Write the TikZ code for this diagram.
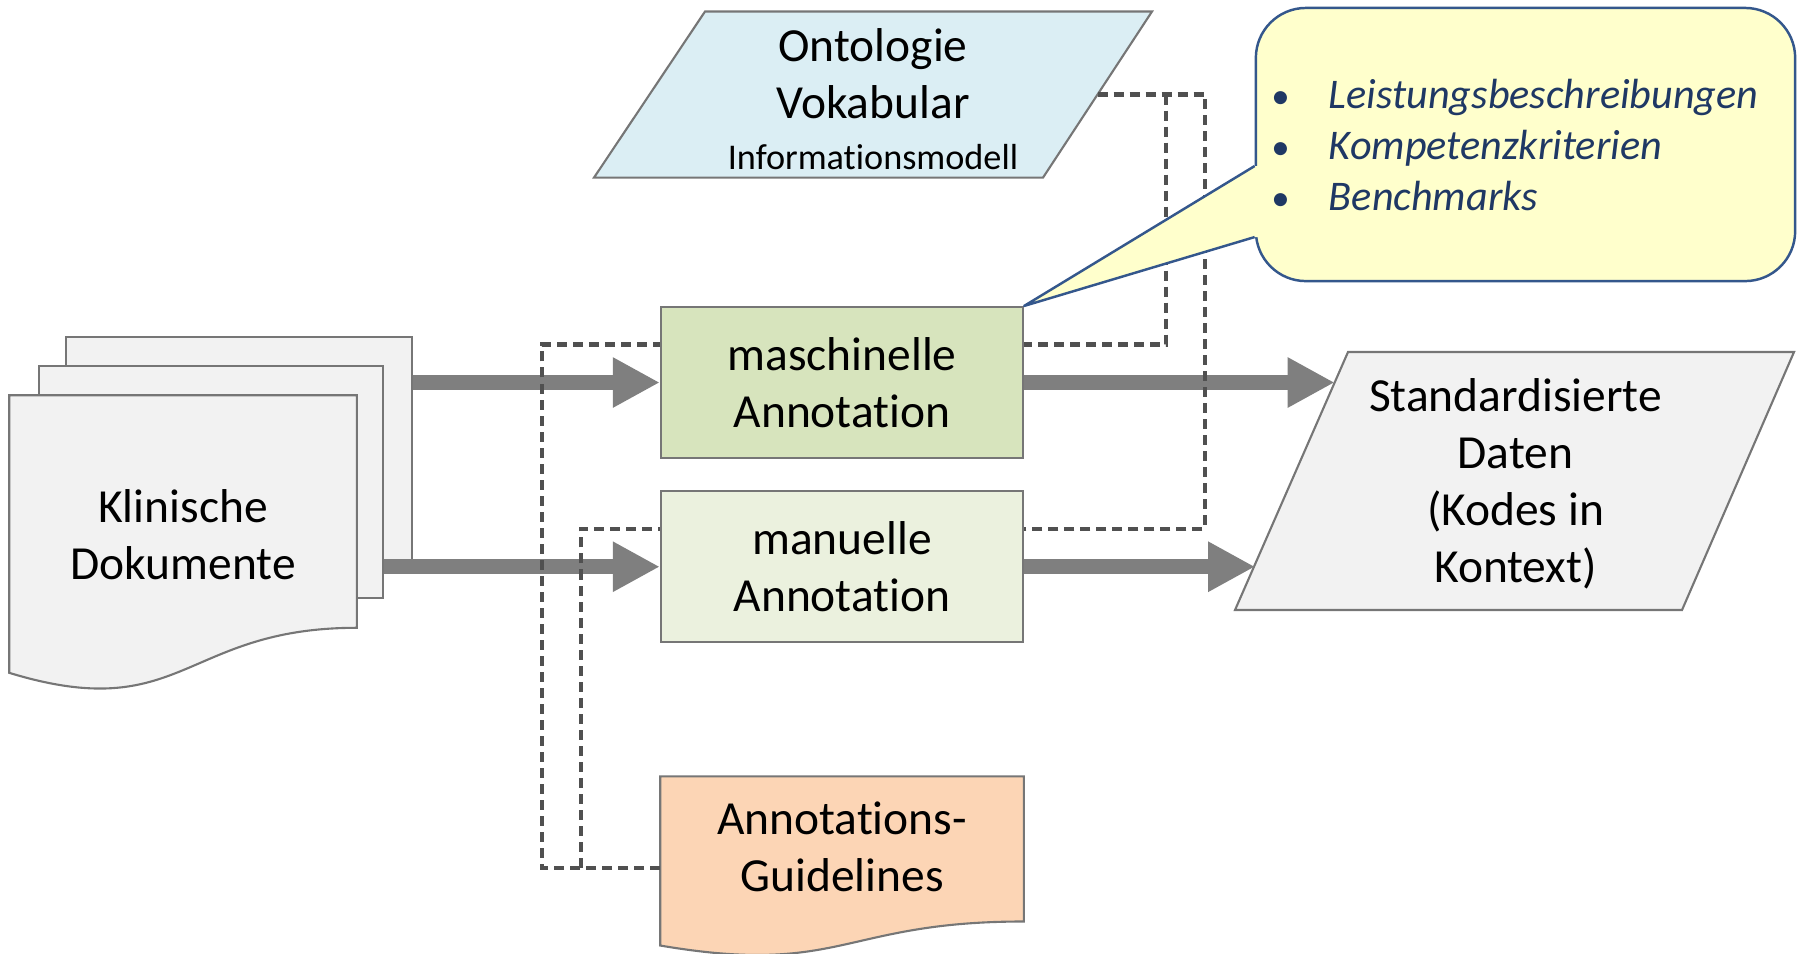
\documentclass[tikz,border=0pt]{standalone}
\usepackage{fontspec}
\setmainfont{Carlito}[Ligatures=CommonOff]
\usepackage{tikz}
\usetikzlibrary{arrows.meta, positioning, calc}
\definecolor{randgrau}{RGB}{118,118,118}
\definecolor{blattgrau}{RGB}{242,242,242}
\definecolor{maschgruen}{RGB}{215,228,189}
\definecolor{manugruen}{RGB}{235,241,222}
\definecolor{guideorange}{RGB}{252,213,181}
\definecolor{ontoblau}{RGB}{219,238,244}
\definecolor{pfeilgrau}{RGB}{127,127,127}
\definecolor{strichgrau}{RGB}{80,80,80}
\definecolor{hinweisgelb}{RGB}{255,255,204}
\definecolor{hinweisrand}{RGB}{52,87,140}
\definecolor{hinweistext}{RGB}{31,56,100}
\newcommand{\haupt}{\fontsize{13.5}{16.2}\selectfont}
\newcommand{\infotext}{\fontsize{10.3}{12}\selectfont}
\newcommand{\notiz}{\fontsize{12}{14.5}\selectfont}
\newcommand{\punkt}{\makebox[0.54cm][l]{\hspace{-1pt}\fontsize{10.5}{12}\selectfont\textbullet}}
\tikzset{
  blattflaeche/.style={draw=randgrau, fill=blattgrau, line width=0.6pt},
  blatt/.style={blattflaeche, rectangle, inner sep=0pt},
  schritt/.style={rectangle, draw=randgrau, line width=0.6pt, minimum width=3.62cm, minimum height=1.51cm, inner sep=0pt, align=center, font=\haupt},
  beschriftung/.style={align=center, font=\haupt, inner sep=0pt},
  hinweis/.style={rectangle, rounded corners=0.5cm, draw=hinweisrand, fill=hinweisgelb, line width=0.7pt, minimum width=5.39cm, minimum height=2.73cm, text width=5.01cm, inner xsep=0.19cm, align=left, font=\notiz, text=hinweistext},
  pfeil/.style={draw=pfeilgrau, line width=0.15cm, -{Triangle[length=0.47cm, width=0.47cm]}},
  strich/.style={draw=strichgrau, line width=0.042cm, dash pattern=on 0.1cm off 0.06cm}
}

\begin{document}
\begin{tikzpicture}[x=0.01cm, y=-0.01cm, node distance=0.31cm]
  \useasboundingbox (0,0) rectangle (1797,953);

  % Klinische Dokumente
  \node (docsC) [blatt, minimum width=3.46cm, minimum height=2.31cm] at (239,452.5) {};
  \node (docsB) [blatt, minimum width=3.44cm, minimum height=2.32cm] at (211,482) {};
  \node (docs) [minimum width=3.46cm, minimum height=2.31cm, inner sep=0pt] at (183,511.5) {};
  \filldraw [blattflaeche] (docs.north west) -- (docs.north east) -- (docs.south east)
    .. controls (docs.south) and ([yshift=-0.98cm]docs.south) .. ([yshift=-0.45cm]docs.south west) -- cycle;
  \node (docsText) [beschriftung] at ([yshift=-0.235cm]docs.center) {Klinische\\Dokumente};

  % Annotation
  \node (masch) [schritt, fill=maschgruen] at (842,382.5) {maschinelle\\Annotation};
  \node (manu) [schritt, fill=manugruen, below=of masch] {manuelle\\Annotation};
  \node (guide) [minimum width=3.62cm, minimum height=1.81cm, inner sep=0pt, below=1.33cm of manu] {};
  \filldraw [blattflaeche, fill=guideorange] (guide.north west) -- (guide.north east) -- ([yshift=-1.45cm]guide.north east)
    .. controls ([yshift=-1.45cm]guide.north) and ([yshift=-2.0cm]guide.north) .. ([yshift=-1.69cm]guide.north west) -- cycle;
  \node (guideText) [beschriftung] at ([yshift=0.21cm]guide.center) {Annotations-\\Guidelines};

  % Ontologie, Daten
  \filldraw [blattflaeche, fill=ontoblau] (594,177.6) -- (705,11.5) -- (1152,11.5) -- (1043,177.6) -- cycle;
  \node (onto) [beschriftung] at (873,99) {Ontologie\\Vokabular\\[-1.5pt]{\infotext Informationsmodell}};
  \coordinate (ontoR) at (1097.5,94.5);
  \coordinate (dataTL) at (1348,352);
  \coordinate (dataBL) at (1235,610);
  \filldraw [blattflaeche] (dataBL) -- (dataTL) -- (1794,352) -- (1682,610) -- cycle;
  \node (data) [beschriftung] at (1515.5,484) {Standardisierte\\Daten\\(Kodes in\\Kontext)};
  \coordinate (dataA) at ($(dataBL)!0.882!(dataTL)$);
  \coordinate (dataB) at ($(dataBL)!0.178!(dataTL)$);

  % Pfeile
  \draw [pfeil] (docsC.east |- masch.west) -- (masch.west);
  \draw [pfeil] (docsB.east |- manu.west) -- (manu.west);
  \draw [pfeil] (masch.east) -- (masch.east -| dataA);
  \draw [pfeil] (manu.east) -- (manu.east -| dataB);

  % gestrichelte Verbindungen
  \coordinate (colA) at (542,0);
  \coordinate (colB) at (581,0);
  \coordinate (colC) at (1166,0);
  \coordinate (colD) at (1205,0);
  \coordinate (maschL) at ([yshift=0.38cm]masch.west);
  \coordinate (maschR) at ([yshift=0.38cm]masch.east);
  \coordinate (manuL) at ([yshift=0.38cm]manu.west);
  \coordinate (manuR) at ([yshift=0.38cm]manu.east);
  \draw [strich] (ontoR) -| (colD |- manuR) -- (manuR);
  \draw [strich] (colC |- ontoR) -- (colC |- maschR) -- (maschR);
  \draw [strich] (guide.west) -| (colA |- maschL) -- (maschL);
  \draw [strich] (colB |- guide.west) -- (colB |- manuL) -- (manuL);

  % Hinweis
  \node (note) [hinweis] at (1525.5,144.5) {\punkt\textit{Leistungsbeschreibungen}\\
    \punkt\textit{Kompetenzkriterien}\\
    \punkt\textit{Benchmarks}};
  \coordinate (wa) at ([yshift=-0.215cm]note.west);
  \coordinate (wb) at ([yshift=-0.925cm]note.west);
  \fill [hinweisgelb] (masch.north east) -- (wa) -- ([xshift=1.5pt]wa) -- ([xshift=1.5pt]wb) -- (wb) -- cycle;
  \draw [draw=hinweisrand, line width=0.7pt, line join=round] (wa) -- (masch.north east) -- (wb);
\end{tikzpicture}
\end{document}
